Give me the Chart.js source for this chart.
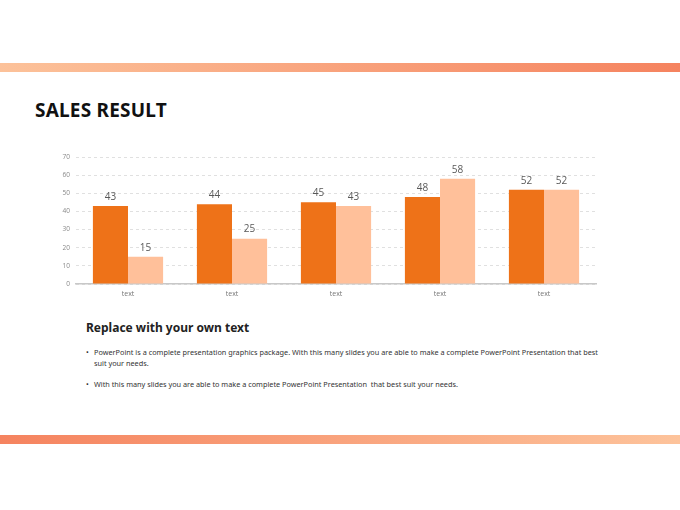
<!DOCTYPE html>
<html><head><meta charset="utf-8">
<script src="https://cdn.jsdelivr.net/npm/chart.js@4/dist/chart.umd.min.js"></script>
<style>
html,body{margin:0;padding:0;background:#fff;width:680px;height:510px;overflow:hidden;font-family:"Noto Sans","Open Sans",sans-serif;}
.band{position:absolute;left:0;width:680px;height:9px;}
#top{top:63px;background:linear-gradient(to right,#fcc29a,#f5835f);}
#bot{top:435px;background:linear-gradient(to right,#f5835f,#fdc39b);}
#title{position:absolute;left:35px;top:97px;font-size:19px;font-weight:700;color:#111;letter-spacing:0.2px;}
#sub{position:absolute;left:86px;top:319px;font-size:12px;font-weight:700;color:#222;}
.bul{position:absolute;left:86px;width:512px;font-size:7.3px;color:#333;line-height:11px;}
.bul .d{position:absolute;left:0;top:0;}
.bul .t{margin-left:8px;text-align:justify;text-align-last:left;}
#chartbox{position:absolute;left:40px;top:145px;width:580px;height:160px;}
</style></head>
<body>
<div class="band" id="top"></div>
<div class="band" id="bot"></div>
<div id="title">SALES RESULT</div>
<div id="chartbox"><canvas id="c"></canvas></div>
<div id="sub">Replace with your own text</div>
<div class="bul" style="top:347px"><span class="d">•</span><div class="t">PowerPoint is a complete presentation graphics package. With this many slides you are able to make a complete PowerPoint Presentation that best suit your needs.</div></div>
<div class="bul" style="top:379px"><span class="d">•</span><div class="t">With this many slides you are able to make a complete PowerPoint Presentation&nbsp; that best suit your needs.</div></div>
<script>
const categories = ["text","text","text","text","text"];
const series1 = [43,44,45,48,52];
const series2 = [15,25,43,58,52];
const yTicks = [0,10,20,30,40,50,60,70];

const labelPlugin = {
  id:'vals',
  afterDatasetsDraw(chart){
    const ctx = chart.ctx;
    ctx.save();
    ctx.font = '10px "Open Sans","Noto Sans",sans-serif';
    ctx.fillStyle = '#595959';
    ctx.textAlign = 'center';
    ctx.textBaseline = 'bottom';
    chart.data.datasets.forEach((ds,i)=>{
      chart.getDatasetMeta(i).data.forEach((bar,j)=>{
        ctx.fillText(ds.data[j], bar.x, bar.y - 4);
      });
    });
    ctx.restore();
  }
};

new Chart(document.getElementById('c'),{
  type:'bar',
  data:{labels:categories,datasets:[
    {data:series1,backgroundColor:'#ee7218',categoryPercentage:0.675,barPercentage:1.0},
    {data:series2,backgroundColor:'#ffc09a',categoryPercentage:0.675,barPercentage:1.0}
  ]},
  options:{
    responsive:true,maintainAspectRatio:false,animation:false,
    layout:{padding:{left:0,right:24,top:12,bottom:0}},
    plugins:{legend:{display:false},tooltip:{enabled:false}},
    scales:{
      x:{
        grid:{display:false,drawTicks:false},
        border:{display:true,color:'#c8c8c8',width:1.5},
        ticks:{color:'#777',font:{size:7,family:'"Open Sans","Noto Sans",sans-serif'},padding:6},
        afterFit(s){s.height=21;}
      },
      y:{
        min:0,max:70,
        afterBuildTicks(s){s.ticks=yTicks.map(v=>({value:v}));},
        grid:{color:'#d9d9d9',drawTicks:false,lineWidth:0.8},
        border:{display:false,dash:[3,3]},
        ticks:{color:'#888',font:{size:6.5,family:'"Open Sans","Noto Sans",sans-serif'},padding:6},
        afterFit(s){s.width=36;}
      }
    }
  },
  plugins:[labelPlugin]
});
</script>
</body></html>
